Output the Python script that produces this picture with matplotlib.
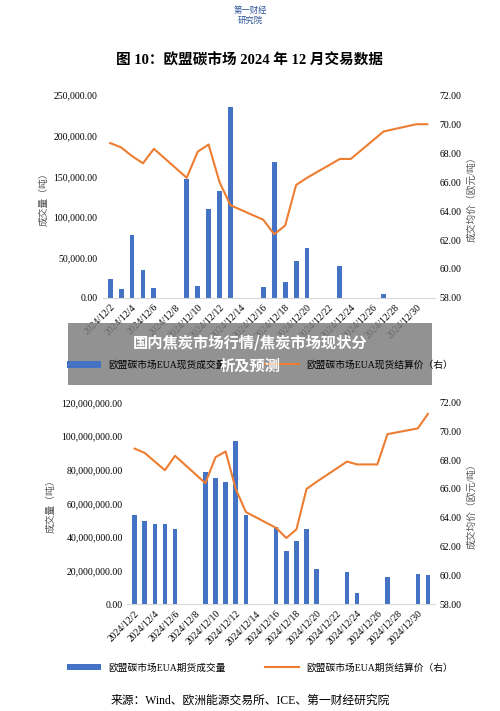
import matplotlib.pyplot as plt
import matplotlib.dates as mdates
from matplotlib.patches import Rectangle
import pandas as pd
import numpy as np

plt.rcParams['font.family'] = ['Liberation Serif', 'Noto Sans CJK SC']

days = pd.date_range("2024-12-02", "2024-12-31")

# 现货 (top)
spot_dates = ["12-02", "12-03", "12-04", "12-05", "12-06", "12-09", "12-10", "12-11", "12-12", "12-13",
              "12-16", "12-17", "12-18", "12-19", "12-20", "12-23", "12-24", "12-27", "12-30", "12-31"]
spot_vol = [23000, 11000, 78000, 35000, 12000, 147000, 15000, 110000, 132000, 236000,
            14000, 168000, 20000, 46000, 62000, 39000, 0, 5000, 0, 0]
spot_price = [68.7, 68.4, 67.8, 67.3, 68.3, 66.3, 68.1, 68.6, 66.0, 64.4,
              63.4, 62.4, 63.0, 65.8, 66.3, 67.6, 67.6, 69.5, 70.0, 70.0]

# 期货 (bottom)
fut_dates = ["12-02", "12-03", "12-04", "12-05", "12-06", "12-09", "12-10", "12-11", "12-12", "12-13",
             "12-16", "12-17", "12-18", "12-19", "12-20", "12-23", "12-24", "12-26", "12-27", "12-30", "12-31"]
fut_vol = [53e6, 49.5e6, 47.5e6, 47.5e6, 44.5e6, 78.5e6, 75e6, 73e6, 97e6, 53e6,
           46e6, 31.5e6, 37.5e6, 45e6, 21e6, 19.5e6, 7e6, 0, 16e6, 18e6, 17.5e6]
fut_price = [68.8, 68.5, 67.9, 67.3, 68.3, 66.4, 68.2, 68.6, 66.0, 64.4,
             63.3, 62.6, 63.2, 66.0, 66.5, 67.9, 67.7, 67.7, 69.8, 70.2, 71.2]

blue = '#4472C4'
orange = '#ED7D31'


def to_dt(lst):
    return pd.to_datetime(["2024-" + d for d in lst])


def draw(ax, dates, vol, price, ymax, ystep, bar_label, line_label):
    d = to_dt(dates)
    ax.bar(d, vol, width=0.45, color=blue, label=bar_label, zorder=2)
    ax.set_ylim(0, ymax)
    ax.set_yticks(np.arange(0, ymax + 1, ystep))
    ax.yaxis.set_major_formatter(plt.FuncFormatter(lambda v, p: "{:,.2f}".format(v)))
    ax.set_ylabel("成交量（吨）", fontsize=7, color='#555555')
    ax.set_xlim(days[0] - pd.Timedelta(days=0.7), days[-1] + pd.Timedelta(days=0.7))
    ax.set_xticks(days[::2])
    ax.xaxis.set_major_formatter(mdates.DateFormatter('%Y/%-m/%-d'))
    ax.tick_params(axis='x', labelrotation=45, labelsize=7, length=0)
    ax.tick_params(axis='y', labelsize=7, length=0)
    for lab in ax.get_xticklabels():
        lab.set_ha('right')
        lab.set_rotation_mode('anchor')
    for s in ['top', 'right', 'left']:
        ax.spines[s].set_visible(False)
    ax.spines['bottom'].set_color('#d9d9d9')
    ax2 = ax.twinx()
    ax2.plot(d, price, color=orange, lw=1.5, label=line_label)
    ax2.set_ylim(58, 72)
    ax2.set_yticks(np.arange(58, 73, 2))
    ax2.yaxis.set_major_formatter(plt.FuncFormatter(lambda v, p: "{:.2f}".format(v)))
    ax2.tick_params(axis='y', labelsize=7, length=0)
    ax2.set_ylabel("成交均价（欧元/吨）", fontsize=7, color='#555555')
    for s in ['top', 'right', 'left', 'bottom']:
        ax2.spines[s].set_visible(False)
    return ax2


fig = plt.figure(figsize=(5.0, 7.11), dpi=100)

ax1 = fig.add_axes([0.205, 0.581, 0.665, 0.285])
a1 = draw(ax1, spot_dates, spot_vol, spot_price, 250000, 50000,
          "欧盟碳市场EUA现货成交量", "欧盟碳市场EUA现货结算价（右）")
ax3 = fig.add_axes([0.255, 0.150, 0.615, 0.284])
a3 = draw(ax3, fut_dates, fut_vol, fut_price, 120e6, 20e6,
          "欧盟碳市场EUA期货成交量", "欧盟碳市场EUA期货结算价（右）")

for ax, a2, y in [(ax1, a1, 0.487), (ax3, a3, 0.061)]:
    h1, l1 = ax.get_legend_handles_labels()
    h2, l2 = a2.get_legend_handles_labels()
    fig.legend(h1 + h2, l1 + l2, loc='center', bbox_to_anchor=(0.52, y), ncol=2,
               frameon=False, fontsize=7, columnspacing=4, handlelength=3.5)

# 标题
fig.text(0.5, 0.915, "图 10：欧盟碳市场 2024 年 12 月交易数据", ha='center', va='center',
         fontsize=10.5, fontweight='bold')
fig.text(0.5, 0.014, "来源：Wind、欧洲能源交易所、ICE、第一财经研究院", ha='center', va='center', fontsize=8.5)
fig.text(0.5, 0.978, "第一财经\n研究院", ha='center', va='center', fontsize=6, color='#2f5597')

# 遮罩横幅
fig.patches.append(Rectangle((0.136, 0.458), 0.728, 0.088, transform=fig.transFigure,
                             facecolor='#7f7f7f', alpha=0.85, edgecolor='none', zorder=5))
fig.text(0.5, 0.502, "国内焦炭市场行情/焦炭市场现状分\n析及预测", ha='center', va='center',
         fontsize=11, fontweight='bold', color='white', linespacing=1.5, zorder=6,
         family=['Noto Sans CJK SC'])

fig.savefig("out.png", dpi=100)
